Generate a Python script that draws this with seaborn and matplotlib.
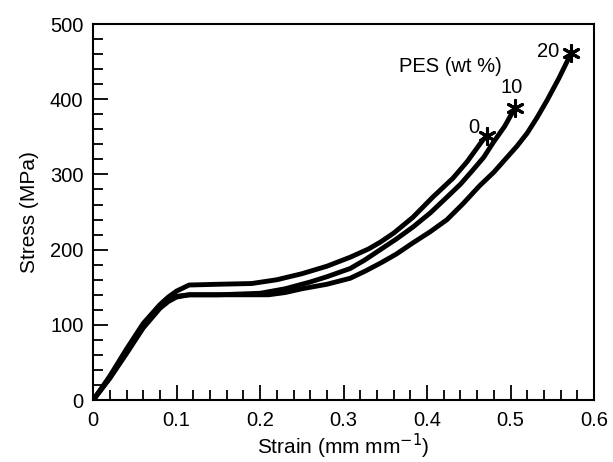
import pandas as pd
import seaborn as sns
import matplotlib.pyplot as plt
from matplotlib.ticker import MultipleLocator

# Stress-strain curves, one per PES content (wt %)
strain_0 = [0, 0.02, 0.04, 0.06, 0.08, 0.09, 0.10, 0.115, 0.15, 0.19, 0.22, 0.25,
            0.28, 0.308, 0.33, 0.344, 0.36, 0.383, 0.407, 0.431, 0.448, 0.467, 0.472]
stress_0 = [0, 32, 68, 102, 127, 137, 145, 153, 154, 155, 160, 168,
            178, 190, 201, 210, 222, 243, 270, 295, 317, 346, 351]

strain_10 = [0, 0.02, 0.04, 0.06, 0.08, 0.09, 0.10, 0.115, 0.15, 0.20, 0.23, 0.26,
             0.28, 0.308, 0.325, 0.344, 0.363, 0.383, 0.404, 0.424, 0.44, 0.455,
             0.468, 0.479, 0.493, 0.505]
stress_10 = [0, 30, 64, 98, 124, 133, 138, 140, 140, 142, 148, 157,
             164, 175, 186, 200, 214, 230, 249, 270, 287, 306,
             323, 342, 364, 388]

strain_20 = [0, 0.02, 0.04, 0.06, 0.08, 0.09, 0.10, 0.115, 0.15, 0.21, 0.23, 0.25,
             0.28, 0.308, 0.325, 0.344, 0.363, 0.383, 0.404, 0.424, 0.443, 0.463,
             0.48, 0.496, 0.508, 0.52, 0.532, 0.544, 0.558, 0.573]
stress_20 = [0, 29, 62, 96, 122, 131, 137, 140, 140, 140, 143, 148,
             154, 162, 171, 182, 194, 209, 224, 240, 261, 285,
             303, 323, 338, 355, 376, 399, 428, 462]

pes_labels = ['0', '10', '20']
label_x = [0.456, 0.501, 0.545]
label_y = [362, 416, 464]

frames = []
for lab, sx, sy in zip(pes_labels, [strain_0, strain_10, strain_20],
                       [stress_0, stress_10, stress_20]):
    frames.append(pd.DataFrame({'Strain': sx, 'Stress': sy, 'PES': lab}))
df = pd.concat(frames, ignore_index=True)

sns.set_style("white")
plt.rcParams['font.family'] = ['Liberation Sans', 'DejaVu Sans']
plt.rcParams['text.color'] = 'black'
plt.rcParams['axes.labelcolor'] = 'black'
plt.rcParams['xtick.color'] = 'black'
plt.rcParams['ytick.color'] = 'black'

fig = plt.figure(figsize=(6.13, 4.62), dpi=100)
ax = fig.add_axes([0.152, 0.134, 0.817, 0.814])

sns.lineplot(data=df, x='Strain', y='Stress', hue='PES', sort=False,
             palette=['black'] * 3, linewidth=3.5, legend=False, ax=ax)

# break points marked with asterisks
ends = df.groupby('PES').last()
ax.scatter(ends['Strain'], ends['Stress'], marker=(6, 2, 0), s=130,
           color='black', linewidths=2.2, zorder=5)

for lab, tx, ty in zip(pes_labels, label_x, label_y):
    ax.text(tx, ty, lab, fontsize=14.5, ha='center', va='center')
ax.text(0.428, 443, 'PES (wt %)', fontsize=14.5, ha='center', va='center')

ax.set_xlim(0, 0.6)
ax.set_ylim(0, 500)
ax.xaxis.set_minor_locator(MultipleLocator(0.02))
ax.yaxis.set_major_locator(MultipleLocator(100))
ax.yaxis.set_minor_locator(MultipleLocator(20))
ax.set_xticks([0, 0.1, 0.2, 0.3, 0.4, 0.5, 0.6])
ax.set_xticklabels(['0', '0.1', '0.2', '0.3', '0.4', '0.5', '0.6'])
ax.tick_params(which='both', direction='in', bottom=True, left=True,
               top=False, right=False, width=1.3, labelsize=14.5)
ax.tick_params(axis='x', pad=8)
ax.tick_params(axis='y', pad=7)
ax.tick_params(which='major', length=11)
ax.tick_params(which='minor', length=7)

for sp in ax.spines.values():
    sp.set_linewidth(1.5)
    sp.set_color('black')

ax.set_xlabel('Strain (mm mm$^{-1}$)', fontsize=15, labelpad=1)
ax.set_ylabel('Stress (MPa)', fontsize=15, labelpad=8)

fig.savefig('out.png', dpi=100)
